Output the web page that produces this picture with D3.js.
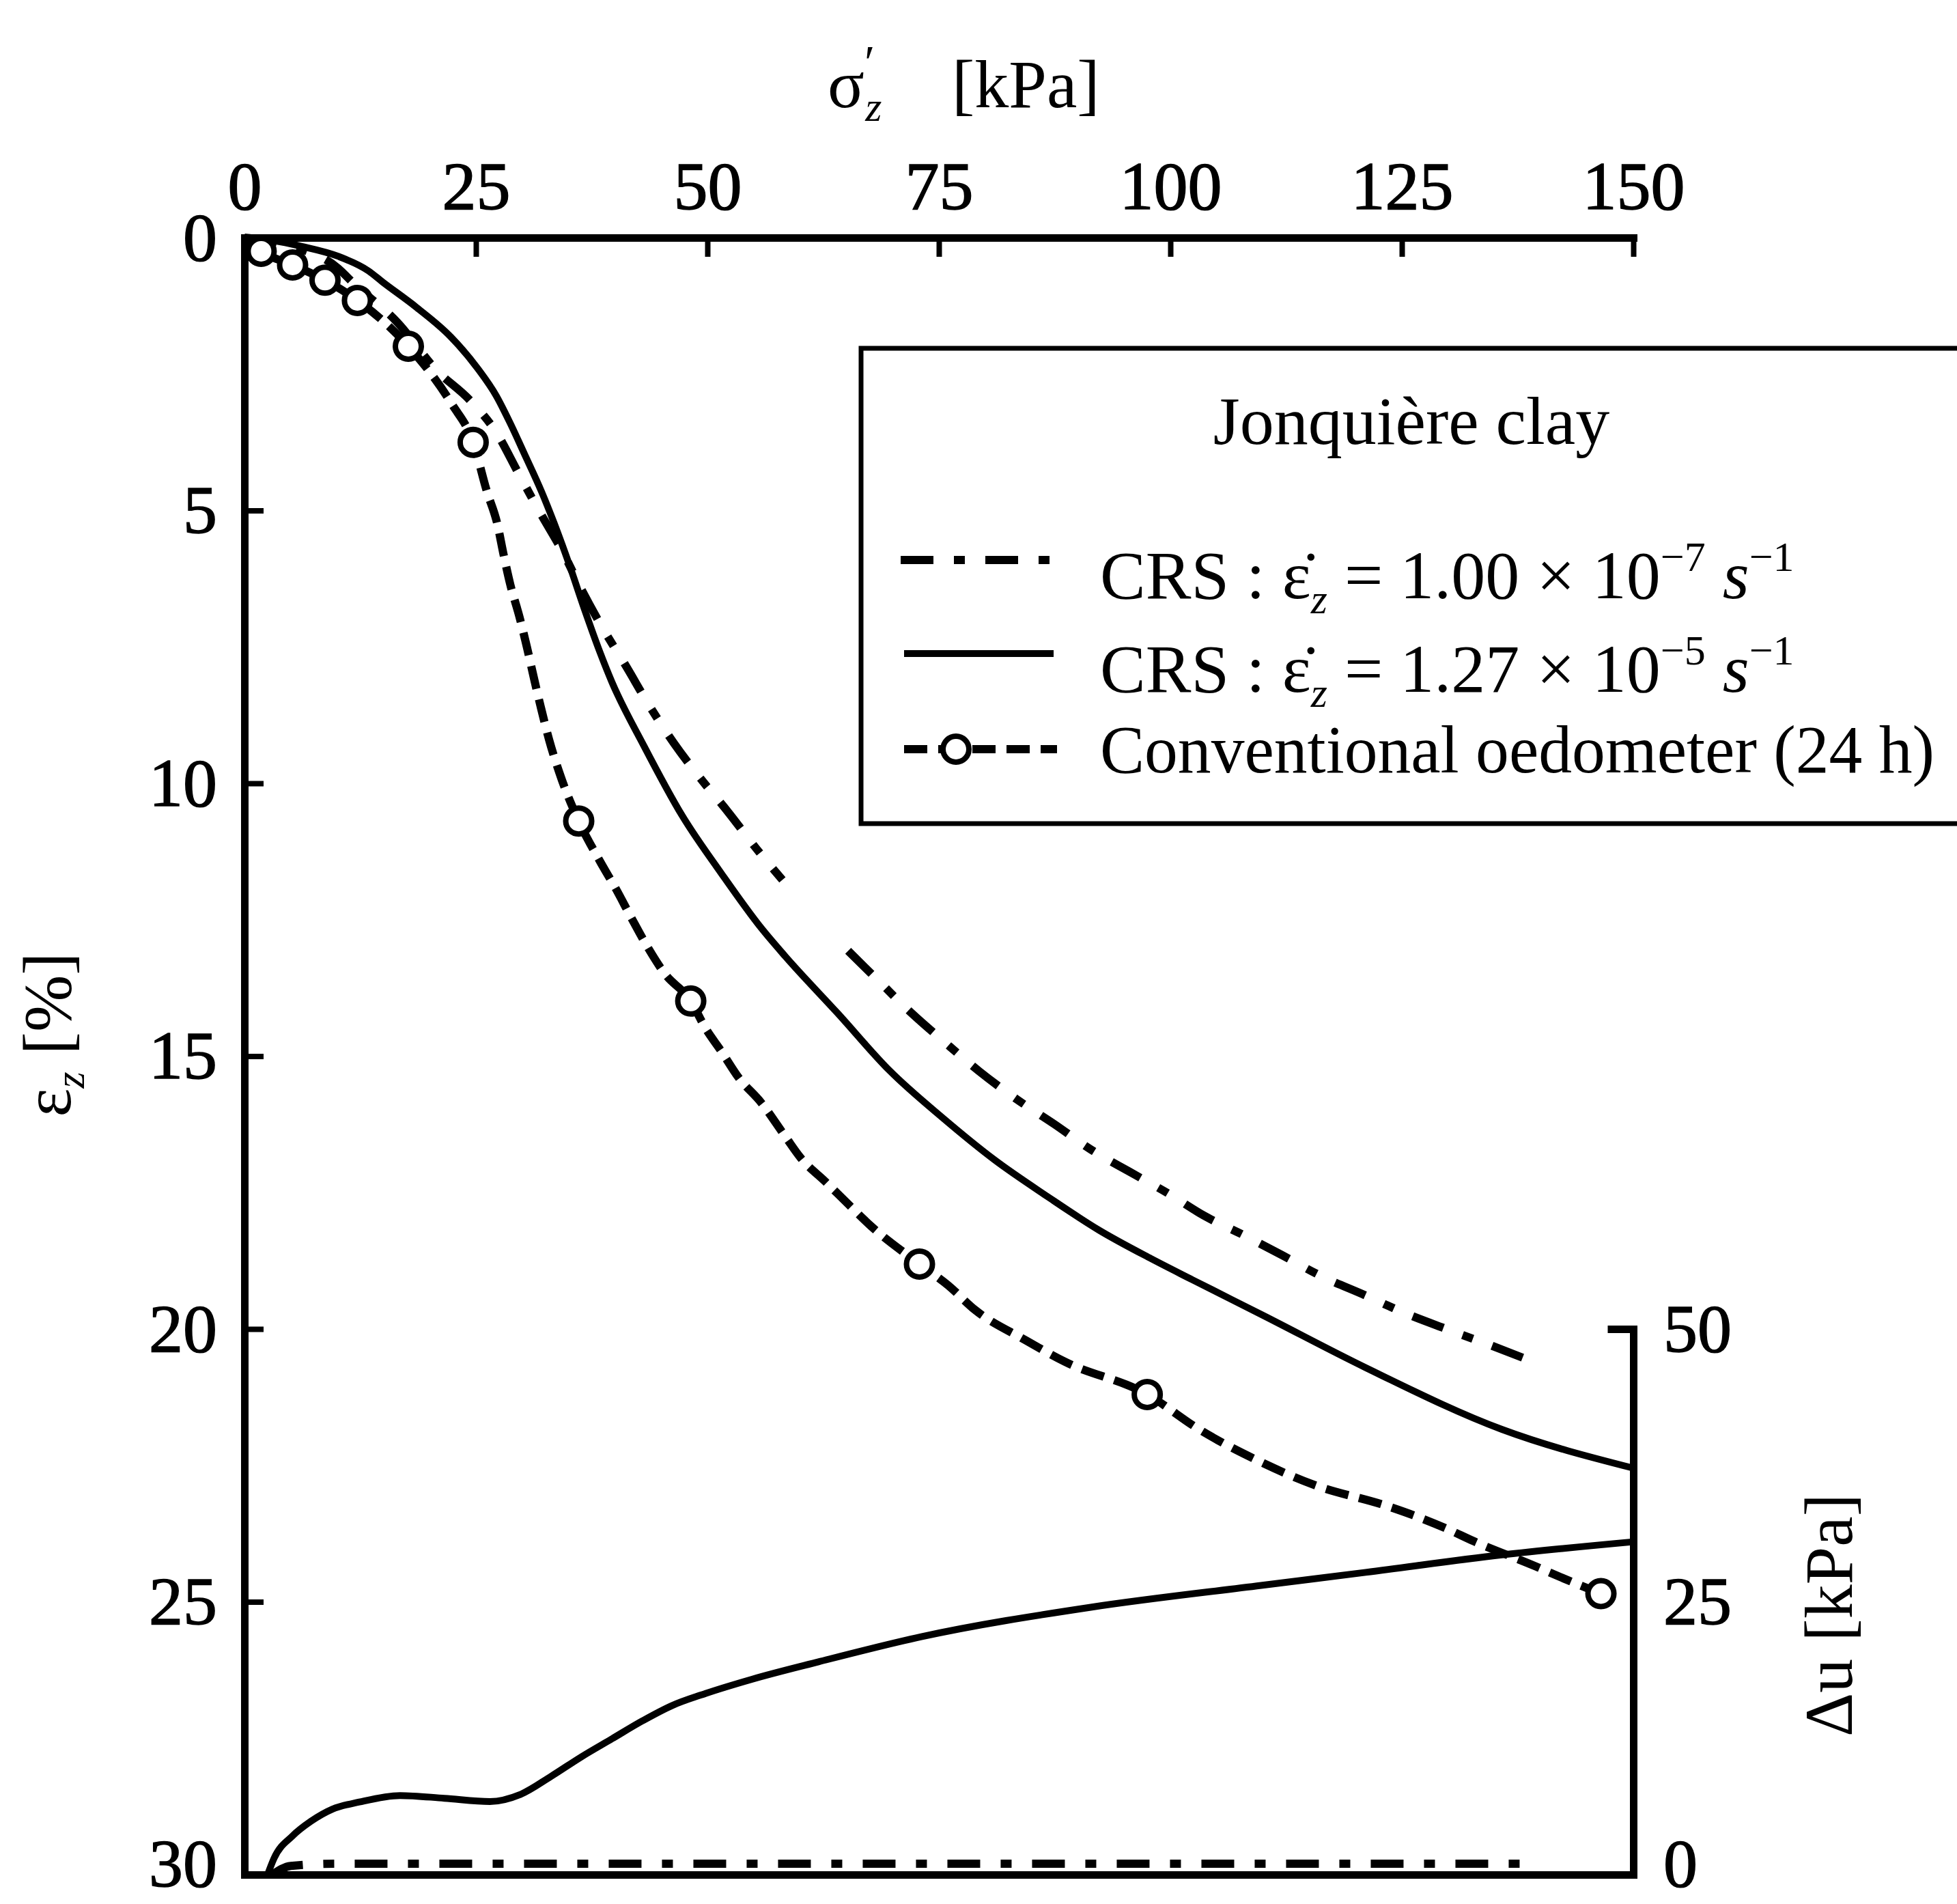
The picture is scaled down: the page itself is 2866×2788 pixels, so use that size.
<!DOCTYPE html>
<html><head><meta charset="utf-8">
<script src="https://cdn.jsdelivr.net/npm/d3@7"></script>
<style>
html,body{margin:0;padding:0;background:#fff;}
svg{display:block;}
text{font-family:"Liberation Serif","Times New Roman",serif;fill:#000;}
</style></head><body>
<svg id="chart" width="2866" height="2788"></svg>
<script>
// ---- data ----
const xTicks = [0, 25, 50, 75, 100, 125, 150];
const yTicks = [0, 5, 10, 15, 20, 25, 30];
const duTicks = [0, 25, 50];

// CRS 1.27e-5 s^-1 (solid): [sigma'z kPa, eps_z %]
const crsFast = [[0,0],[3,0.05],[6.2,0.16],[10.1,0.34],[13.4,0.61],[14.9,0.81],[18.6,1.28],[22.3,1.82],[25.2,2.4],[27.2,2.9],[28.7,3.4],[30.2,3.95],[32.1,4.66],[33.6,5.3],[35.1,6.0],[36.7,6.8],[38.4,7.6],[39.7,8.15],[43.1,9.3],[47.3,10.6],[51.5,11.65],[55.8,12.65],[58.4,13.17],[64.1,14.22],[69.7,15.27],[75.4,16.13],[81,16.9],[86.7,17.57],[92.3,18.19],[97.9,18.71],[102.4,19.1],[110,19.75],[121.1,20.71],[135.8,21.84],[150,22.55]];

// CRS 1.00e-7 s^-1 (dash-dot), drawn in two pieces as in the figure
const crsSlowA = [[0,0],[5,0.15],[10.1,0.56],[11.8,0.84],[16.5,1.55],[20.8,2.44],[24.3,2.97],[27.2,3.57],[29.6,4.32],[31.8,5.0],[34.5,5.8],[36.4,6.45],[38.6,7.13],[41.2,7.85],[43.7,8.57],[46.4,9.27],[49.2,9.9],[52.3,10.54],[55.3,11.2],[58.1,11.77]];
const crsSlowB = [[65.2,13.07],[68.6,13.64],[72.1,14.22],[75.6,14.74],[79.3,15.27],[83.4,15.79],[87.5,16.25],[91.4,16.71],[95.5,17.11],[99.8,17.52],[103.6,17.92],[107.9,18.28],[112.1,18.65],[116.4,19.04],[121,19.38],[125.2,19.7],[129.8,20.0],[134.6,20.3],[139,20.59]];

// Conventional oedometer (24 h): dashed path and measured points
const oedoPath = [[0,0],[1.8,0.25],[5.2,0.5],[8.7,0.78],[12.2,1.15],[17.7,1.99],[22.4,3.05],[24.7,3.75],[26.2,4.66],[27.3,5.24],[28.0,5.82],[28.7,6.35],[29.7,6.95],[30.5,7.5],[31.3,8.1],[32.0,8.6],[32.9,9.2],[34.0,9.8],[36.1,10.69],[38.4,11.43],[40.1,11.93],[41.8,12.47],[43.5,12.99],[45.4,13.49],[48.2,13.99],[49.8,14.49],[51.5,14.91],[53.4,15.4],[55.8,15.85],[58.4,16.47],[60.1,16.87],[62.8,17.31],[65.2,17.71],[67.7,18.12],[72.9,18.81],[76.0,19.2],[78.9,19.65],[84.3,20.2],[88.6,20.6],[97.5,21.2],[103.2,21.85],[109.3,22.4],[115.4,22.85],[123.5,23.25],[126.5,23.43],[129.7,23.65],[132.9,23.9],[139.3,24.34],[142.3,24.56],[146.5,24.85]];
const oedoPoints = [[1.8,0.25],[5.2,0.5],[8.7,0.78],[12.2,1.15],[17.7,1.99],[24.7,3.75],[36.1,10.69],[48.2,13.99],[72.9,18.81],[97.5,21.2],[146.5,24.85]];

// Excess pore pressure Δu [kPa]
const duFast = [[2.5,0],[3.2,1.5],[5.2,3.55],[7.2,4.9],[9.5,6.0],[12.4,6.65],[16.8,7.25],[21.6,7.0],[26.5,6.7],[29.8,7.35],[33.1,9.0],[36.4,10.8],[39.7,12.45],[43,14.1],[46.2,15.5],[49.8,16.6],[54.8,17.9],[62,19.5],[73.1,21.8],[91.4,24.5],[109.8,26.5],[121.1,27.7],[135.8,29.3],[150,30.5]];
const duSlow = [[3,0],[5,0.8],[10,1.0],[60,1.0],[100,1.0],[139.8,1.0]];

const legendLabels = ["Jonquière clay", "Conventional oedometer (24 h)"];

// ---- drawing ----
const W = 2866, H = 2788;
const svg = d3.select('#chart');
svg.append('rect').attr('width', W).attr('height', H).attr('fill', '#fff');

const x = d3.scaleLinear().domain([0, 150]).range([358, 2392]);
const y = d3.scaleLinear().domain([0, 30]).range([348, 2745]);
const yDu = d3.scaleLinear().domain([0, 50]).range([y(30), y(20)]);

const FONT = '"Liberation Serif","Times New Roman",serif';

function styleAxis(g) {
  g.attr('font-size', 100).attr('font-family', FONT);
  g.select('.domain').attr('stroke-width', 11).attr('stroke-linecap', 'square');
  g.selectAll('.tick line').attr('stroke-width', 8);
  g.selectAll('.tick text').attr('fill', '#000').attr('stroke', '#000').attr('stroke-width', 1.5);
}

// top axis
svg.append('g').attr('transform', `translate(0,${y(0)})`)
  .call(d3.axisTop(x).tickValues(xTicks).tickFormat(d3.format('d')).tickSizeInner(-28).tickSizeOuter(0).tickPadding(42))
  .call(styleAxis);
// left axis
const gLeft = svg.append('g').attr('transform', `translate(${x(0)},0)`)
  .call(d3.axisLeft(y).tickValues(yTicks).tickFormat(d3.format('d')).tickSizeInner(-28).tickSizeOuter(0).tickPadding(40))
  .call(styleAxis);
gLeft.selectAll('.tick text').filter(d => d === 30).attr('dy', '0.16em');
// bottom axis (line only)
svg.append('g').attr('transform', `translate(0,${y(30)})`)
  .call(d3.axisBottom(x).tickValues([]).tickSizeOuter(0))
  .call(styleAxis);
// right Δu axis
const gRight = svg.append('g').attr('transform', `translate(${x(150)},0)`)
  .call(d3.axisRight(yDu).tickValues(duTicks).tickFormat(d3.format('d')).tickSizeInner(0).tickSizeOuter(-32).tickPadding(44))
  .call(styleAxis);
gRight.selectAll('.tick text').filter(d => d === 0).attr('dy', '0.16em');

// axis titles
const xTitle = svg.append('text').attr('x', 1212).attr('y', 157).attr('font-size', 100);
xTitle.append('tspan').text('σ');
xTitle.append('tspan').attr('font-size', 70).attr('dy', -42).text('′');
xTitle.append('tspan').attr('font-size', 62).attr('font-style', 'italic').attr('dx', -14).attr('dy', 62).text('z');
svg.append('text').attr('x', 1394).attr('y', 157).attr('font-size', 100).text('[kPa]');

const yTitle = svg.append('text').attr('transform', 'translate(103,1515) rotate(-90)')
  .attr('text-anchor', 'middle').attr('font-size', 100);
yTitle.append('tspan').text('ε');
yTitle.append('tspan').attr('font-size', 62).attr('font-style', 'italic').attr('dy', 20).text('z');
yTitle.append('tspan').attr('dy', -20).text(' [%]');

svg.append('text').attr('transform', 'translate(2712,2365) rotate(-90)')
  .attr('text-anchor', 'middle').attr('font-size', 100).text('Δu  [kPa]');

// curves
const line = d3.line().x(d => x(d[0])).y(d => y(d[1])).curve(d3.curveMonotoneX);
const lineDu = d3.line().x(d => x(d[0])).y(d => yDu(d[1])).curve(d3.curveMonotoneX);
const DASHDOT = '48,30,16,30';
const DASH = '34,16';

svg.append('path').attr('d', lineDu(duFast)).attr('fill', 'none').attr('stroke', '#000').attr('stroke-width', 10);
svg.append('path').attr('d', lineDu(duSlow)).attr('fill', 'none').attr('stroke', '#000').attr('stroke-width', 12).attr('stroke-dasharray', DASHDOT);

svg.append('path').attr('d', line(crsFast)).attr('fill', 'none').attr('stroke', '#000').attr('stroke-width', 10);
[crsSlowA, crsSlowB].forEach(seg => {
  svg.append('path').attr('d', line(seg)).attr('fill', 'none').attr('stroke', '#000').attr('stroke-width', 12).attr('stroke-dasharray', DASHDOT);
});
svg.append('path').attr('d', line(oedoPath)).attr('fill', 'none').attr('stroke', '#000').attr('stroke-width', 12).attr('stroke-dasharray', DASH);
svg.append('g').selectAll('circle').data(oedoPoints).join('circle')
  .attr('cx', d => x(d[0])).attr('cy', d => y(d[1])).attr('r', 19)
  .attr('fill', '#fff').attr('stroke', '#000').attr('stroke-width', 8);

// legend
const lg = svg.append('g');
lg.append('rect').attr('x', 1261).attr('y', 510).attr('width', 1700).attr('height', 696)
  .attr('fill', '#fff').attr('stroke', '#000').attr('stroke-width', 7);
lg.append('text').attr('x', 2067).attr('y', 650).attr('text-anchor', 'middle').attr('font-size', 100).text(legendLabels[0]);

function crsLabel(yb, rate, exp) {
  const t = lg.append('text').attr('x', 1611).attr('y', yb).attr('font-size', 100);
  t.append('tspan').text('CRS : ε\u0307');
  t.append('tspan').attr('font-size', 62).attr('font-style', 'italic').attr('dy', 22).text('z');
  t.append('tspan').attr('dy', -22).text(' = ' + rate + ' × 10');
  t.append('tspan').attr('font-size', 62).attr('dy', -40).text('−' + exp);
  t.append('tspan').attr('dy', 40).text(' ');
  t.append('tspan').attr('font-style', 'italic').text('s');
  t.append('tspan').attr('font-size', 62).attr('dy', -40).text('−1');
}
lg.append('line').attr('x1', 1319).attr('x2', 1556).attr('y1', 820).attr('y2', 820)
  .attr('stroke', '#000').attr('stroke-width', 12).attr('stroke-dasharray', DASHDOT);
crsLabel(876, '1.00', 7);
lg.append('line').attr('x1', 1324).attr('x2', 1543).attr('y1', 957).attr('y2', 957)
  .attr('stroke', '#000').attr('stroke-width', 10);
crsLabel(1013, '1.27', 5);
lg.append('line').attr('x1', 1324).attr('x2', 1548).attr('y1', 1097).attr('y2', 1097)
  .attr('stroke', '#000').attr('stroke-width', 12).attr('stroke-dasharray', DASH);
lg.append('circle').attr('cx', 1400).attr('cy', 1097).attr('r', 19)
  .attr('fill', '#fff').attr('stroke', '#000').attr('stroke-width', 8);
lg.append('text').attr('x', 1611).attr('y', 1131).attr('font-size', 100)
  .attr('textLength', 1222).attr('lengthAdjust', 'spacingAndGlyphs').text(legendLabels[1]);
</script>
</body></html>
